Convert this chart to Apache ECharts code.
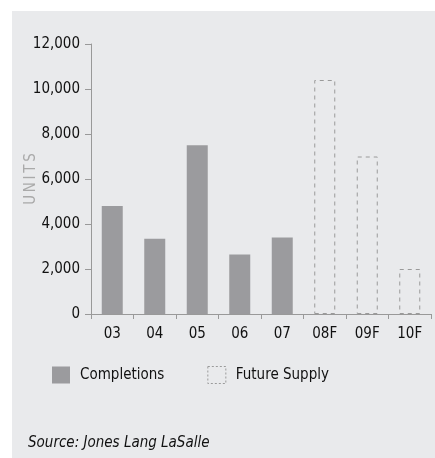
<!DOCTYPE html>
<html>
<head>
<meta charset="utf-8">
<script src="https://cdn.jsdelivr.net/npm/echarts@6/dist/echarts.min.js"></script>
<style>
html,body{margin:0;padding:0;background:#fff;}
#chart{width:435px;height:458px;}
</style>
</head>
<body>
<div id="chart"></div>
<script>
var categories = ['03','04','05','06','07','08F','09F','10F'];
var completions = [4800, 3350, 7500, 2650, 3400, '-', '-', '-'];
var futureSupply = ['-', '-', '-', '-', '-', 10400, 7000, 2000];
var yTicks = [0, 2000, 4000, 6000, 8000, 10000, 12000];

var FONT = '"Liberation Sans Narrow", "DejaVu Sans Condensed", sans-serif';
var chart = echarts.init(document.getElementById('chart'), null, {renderer: 'canvas'});
chart.setOption({
  animation: false,
  backgroundColor: '#ffffff',
  graphic: [
    {type: 'rect', z: -10, silent: true, shape: {x: 12, y: 11, width: 423, height: 447}, style: {fill: '#e9eaec'}},
    {type: 'text', left: 28, top: 436, style: {text: 'Source: Jones Lang LaSalle', font: 'italic 15px ' + FONT, fill: '#111'}}
  ],
  grid: {left: 91, right: 4, top: 44, bottom: 144, containLabel: false},
  legend: {
    left: 52, top: 366, padding: 0, itemGap: 43, itemWidth: 18, itemHeight: 17,
    textStyle: {fontFamily: FONT, fontSize: 15, color: '#111', padding: [0, 0, 0, 5]},
    data: [
      {name: 'Completions', icon: 'rect'},
      {name: 'Future Supply', icon: 'rect', itemStyle: {color: 'transparent', borderColor: '#9a9a9a', borderWidth: 1, borderType: [2, 2]}}
    ]
  },
  xAxis: {
    type: 'category', data: categories, boundaryGap: true,
    axisLine: {lineStyle: {color: '#999', width: 1}},
    axisTick: {show: true, length: 5, alignWithLabel: false, lineStyle: {color: '#999'}},
    axisLabel: {fontFamily: FONT, fontSize: 15, color: '#111', margin: 13}
  },
  yAxis: {
    type: 'value', min: yTicks[0], max: yTicks[yTicks.length - 1], interval: 2000,
    name: 'U\u2009N\u2009I\u2009T\u2009S', nameLocation: 'middle', nameGap: 52, nameRotate: 90,
    nameMoveOverlap: false,
    nameTextStyle: {fontFamily: FONT, fontSize: 15, color: '#aaa'},
    axisLine: {show: true, lineStyle: {color: '#999', width: 1}},
    axisTick: {show: true, length: 6, lineStyle: {color: '#999'}},
    splitLine: {show: false},
    axisLabel: {fontFamily: FONT, fontSize: 15, color: '#111', margin: 11,
      formatter: function (v) { return v.toLocaleString('en-US'); }}
  },
  series: [
    {name: 'Completions', type: 'bar', data: completions, barWidth: 21, barGap: '-100%',
      itemStyle: {color: '#9b9b9e'}},
    {name: 'Future Supply', type: 'bar', data: futureSupply, barWidth: 21, barGap: '-100%',
      itemStyle: {color: 'transparent', borderColor: '#9a9a9a', borderWidth: 1, borderType: [4, 4]}}
  ]
});
</script>
</body>
</html>
